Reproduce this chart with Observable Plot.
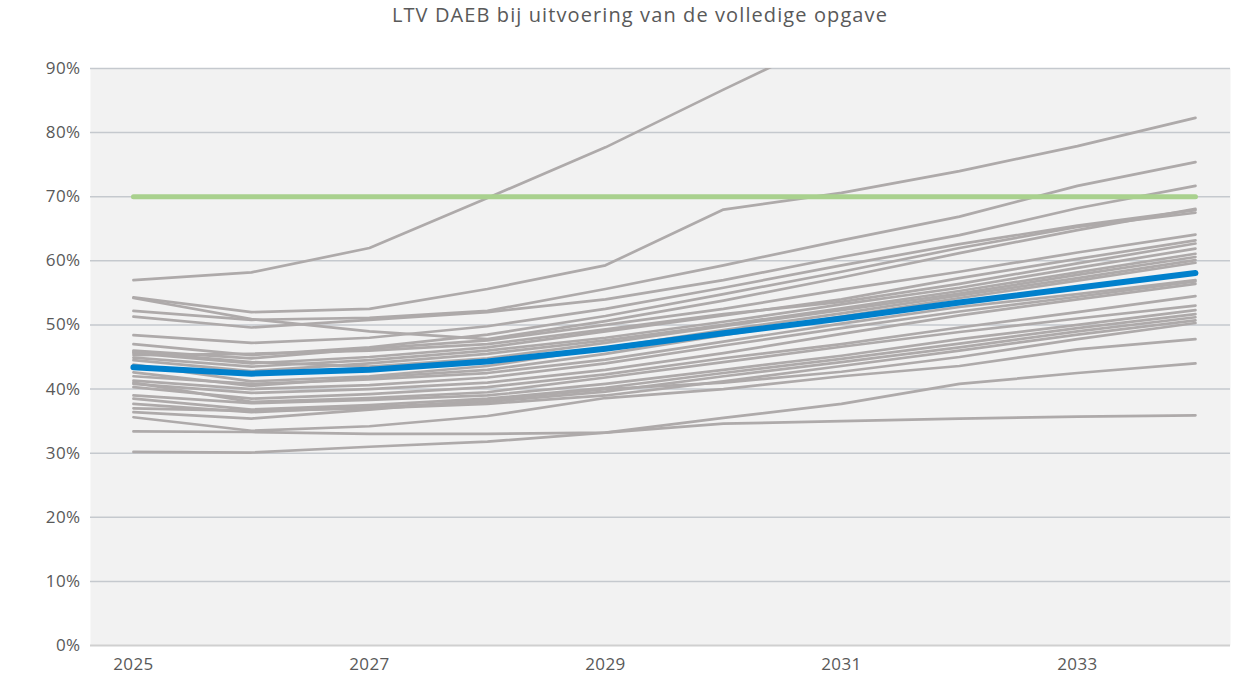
<!DOCTYPE html>
<html>
<head>
<meta charset="utf-8">
<script src="https://cdn.jsdelivr.net/npm/d3@7"></script>
<script src="https://cdn.jsdelivr.net/npm/@observablehq/plot@0.6"></script>
<style>
  html, body { margin: 0; padding: 0; background: #ffffff; }
  #title { height: 34px; line-height: 30px; text-align: center; padding-left: 40px; font-family: "Open Sans", sans-serif; font-size: 20px; letter-spacing: 1.1px; color: #595959; }
  #chart svg { display: block; }
</style>
</head>
<body>
<div id="title">LTV DAEB bij uitvoering van de volledige opgave</div>
<div id="chart"></div>
<script>
const years = [2025, 2026, 2027, 2028, 2029, 2030, 2031, 2032, 2033, 2034];
const xTickYears = [2025, 2027, 2029, 2031, 2033];
const yTicks = [0, 0.1, 0.2, 0.3, 0.4, 0.5, 0.6, 0.7, 0.8, 0.9];

// LTV per corporation (%), one row per corporation, 2025..2034
const corporations = [
  [57.0, 58.2, 62.0, 69.8, 77.7, 86.7, 95.5, 103, 110, 117],
  [54.3, 52.0, 52.5, 55.6, 59.3, 68.0, 70.6, 74.0, 77.9, 82.3],
  [52.2, 50.8, 51.1, 52.2, 55.6, 59.3, 63.2, 66.9, 71.7, 75.4],
  [51.3, 49.6, 50.8, 52.0, 54.0, 57.0, 60.6, 64.0, 68.2, 71.7],
  [54.2, 50.9, 49.0, 47.8, 50.6, 53.8, 57.4, 61.2, 64.8, 68.1],
  [48.4, 47.2, 48.0, 49.8, 52.5, 55.8, 59.3, 62.6, 65.5, 67.9],
  [47.0, 45.3, 46.5, 48.5, 51.4, 54.8, 58.3, 62.0, 65.3, 67.5],
  [46.0, 44.8, 46.3, 47.6, 50.0, 52.5, 55.5, 58.3, 61.3, 64.1],
  [45.6, 44.0, 45.0, 46.5, 49.0, 51.5, 54.0, 57.3, 60.3, 63.2],
  [45.3, 45.5, 46.0, 47.0, 49.3, 51.7, 53.6, 56.4, 59.6, 62.7],
  [44.9, 43.5, 44.5, 46.0, 48.0, 50.5, 53.2, 55.8, 58.9, 61.9],
  [44.5, 42.8, 44.0, 45.5, 47.6, 50.0, 52.6, 55.3, 58.2, 61.1],
  [45.8, 44.2, 43.5, 44.8, 47.2, 49.8, 52.3, 54.9, 57.8, 60.6],
  [43.8, 41.2, 42.0, 43.6, 46.4, 49.2, 51.8, 54.6, 57.3, 60.1],
  [42.6, 40.5, 41.8, 43.0, 45.5, 48.4, 51.3, 54.2, 56.9, 59.7],
  [42.0, 40.8, 41.5, 42.5, 44.6, 47.4, 50.2, 52.8, 54.8, 57.0],
  [41.3, 40.0, 40.6, 41.8, 44.0, 46.8, 49.5, 52.1, 54.4, 56.8],
  [40.8, 39.4, 40.0, 41.0, 43.0, 45.6, 48.6, 51.5, 54.0, 56.4],
  [40.3, 38.5, 39.2, 40.3, 42.3, 44.8, 47.0, 49.6, 52.0, 54.5],
  [41.0, 38.0, 38.6, 39.5, 41.8, 44.2, 46.6, 48.9, 51.0, 53.0],
  [39.0, 37.8, 38.3, 39.0, 40.8, 43.0, 45.2, 47.8, 50.0, 52.3],
  [38.5, 36.8, 37.5, 38.5, 40.2, 42.5, 44.7, 47.1, 49.5, 51.7],
  [37.7, 36.4, 37.2, 38.0, 39.6, 42.0, 44.2, 46.5, 49.0, 51.2],
  [37.0, 36.6, 37.0, 37.7, 39.0, 41.2, 43.6, 46.0, 48.5, 50.7],
  [36.4, 35.4, 36.8, 38.3, 40.0, 41.0, 42.7, 45.0, 47.8, 50.3],
  [35.6, 33.5, 34.2, 35.8, 38.6, 40.0, 42.0, 43.6, 46.2, 47.8],
  [33.4, 33.3, 33.0, 33.0, 33.2, 35.5, 37.7, 40.8, 42.5, 44.0],
  [30.2, 30.1, 31.0, 31.8, 33.2, 34.6, 35.0, 35.4, 35.7, 35.9]
];
// sector average LTV (%)
const average = [43.4, 42.4, 43.0, 44.3, 46.3, 48.7, 51.0, 53.5, 55.8, 58.1];
// norm (%)
const norm = [70, 70, 70, 70, 70, 70, 70, 70, 70, 70];

const grayRows = corporations.flatMap((vals, i) => vals.map((v, j) => ({id: i, year: years[j], ltv: v / 100})));
const avgRows = average.map((v, j) => ({year: years[j], ltv: v / 100}));
const normRows = norm.map((v, j) => ({year: years[j], ltv: v / 100}));

const font = "'Open Sans', sans-serif";
const chart = Plot.plot({
  width: 1240,
  height: 648,
  marginTop: 34,
  marginBottom: 37,
  marginLeft: 90,
  marginRight: 10,
  style: {fontFamily: font, fontSize: "17px", color: "#595959", background: "#ffffff", letterSpacing: "0.4px"},
  x: {type: "linear", domain: [2024.636, 2034.297]},
  y: {domain: [0, 0.9]},
  marks: [
    Plot.frame({fill: "#f2f2f2", stroke: null}),
    Plot.ruleY(yTicks.slice(1), {stroke: "#c5c9ce", strokeWidth: 1.5}),
    Plot.ruleY([0], {stroke: "#d0d0d0", strokeWidth: 2}),
    Plot.axisY({ticks: yTicks, tickFormat: d3.format(".0%"), tickSize: 0, tickPadding: 10, label: null, fill: "#595959"}),
    Plot.axisX({ticks: xTickYears, tickFormat: d => String(d), tickSize: 0, tickPadding: 12, label: null, fill: "#595959"}),
    Plot.line(grayRows, {x: "year", y: "ltv", z: "id", stroke: "#aeaaaa", strokeWidth: 2.7, strokeLinecap: "round", strokeLinejoin: "round", clip: true}),
    Plot.line(normRows, {x: "year", y: "ltv", stroke: "#a9d18e", strokeWidth: 5, strokeLinecap: "round", clip: true}),
    Plot.line(avgRows, {x: "year", y: "ltv", stroke: "#0080cc", strokeWidth: 6, strokeLinecap: "round", strokeLinejoin: "round", clip: true})
  ]
});
document.getElementById("chart").appendChild(chart);
</script>
</body>
</html>
